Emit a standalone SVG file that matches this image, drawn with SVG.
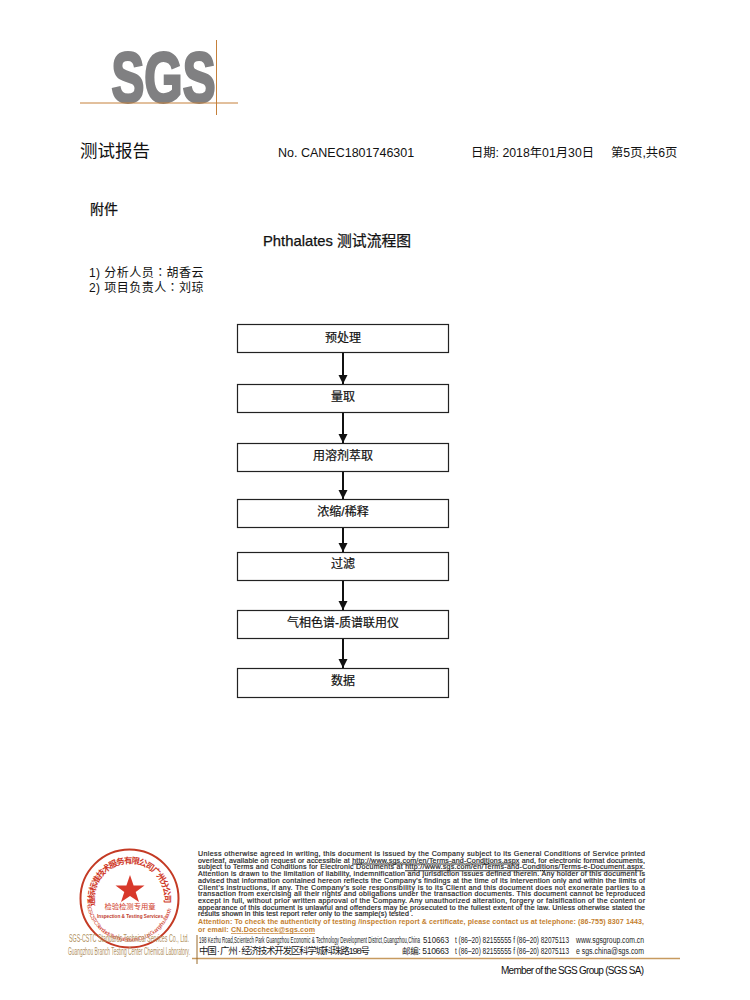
<svg xmlns="http://www.w3.org/2000/svg" width="750" height="1000" viewBox="0 0 750 1000">
<style>
text{font-family:"Liberation Sans","Noto Sans CJK SC",sans-serif;fill:#111}
.box{fill:#fff;stroke:#222;stroke-width:1.2}
.lab{font-size:12px;text-anchor:middle;stroke:#111;stroke-width:.2}
.conn{stroke:#111;stroke-width:2;fill:none;marker-end:url(#ah)}
.legal{font-size:7.1px;fill:#222;stroke:#222;stroke-width:.18}
.att{font-size:7.1px;font-weight:bold;fill:#c47f30}
.addr{font-size:8.500px;fill:#222}
.red{fill:#d8392b}
.st{fill:#cf3a2a;font-weight:bold}
.ol{fill:#b09060;font-size:10.500px}
.hv{stroke:#111;stroke-width:.25}
</style>
<defs>
<marker id="ah" markerUnits="userSpaceOnUse" markerWidth="10" markerHeight="10" refX="9" refY="4.500" orient="auto"><path d="M0,0L9,4.500L0,9Z" fill="#111"/></marker>
<path id="ct" d="M95.300,906A35,35 0 1 1 163.700,906"/>
<path id="cb" d="M87,905A43,43 0 0 0 172,905"/>
</defs>
<rect width="750" height="1000" fill="#fff"/>
<g id="logo">
<text x="111.500" y="101.500" font-size="70" font-weight="bold" textLength="104" lengthAdjust="spacingAndGlyphs" style="fill:#808082;stroke:#808082;stroke-width:2.8">SGS</text>
<path d="M80,103H238M216.500,40V115" stroke="#c5803a" stroke-width="1" fill="none"/>
</g>
<g id="header">
<text x="80" y="157" font-size="17.500">测试报告</text>
<text x="278" y="157" font-size="12.500">No. CANEC1801746301</text>
<text x="471" y="157" font-size="12.300">日期: 2018年01月30日</text>
<text x="611" y="157" font-size="12.300">第5页,共6页</text>
<text class="hv" x="90" y="214" font-size="14">附件</text>
<text class="hv" x="263" y="246" font-size="14.800">Phthalates 测试流程图</text>
<text x="89" y="277" font-size="12" letter-spacing=".45">1) 分析人员<tspan font-family="Noto Sans CJK TC">：</tspan>胡香云</text>
<text x="89" y="292" font-size="12" letter-spacing=".45">2) 项目负责人<tspan font-family="Noto Sans CJK TC">：</tspan>刘琼</text>
</g>
<g id="connectors">
<path class="conn" d="M343,353V384"/>
<path class="conn" d="M343,413V443"/>
<path class="conn" d="M343,471V499"/>
<path class="conn" d="M343,527V552"/>
<path class="conn" d="M343,580V610"/>
<path class="conn" d="M343,638V668"/>
</g>
<g id="n1"><rect class="box" x="237.500" y="324.500" width="211" height="28"/><text class="lab" x="343" y="342">预处理</text></g>
<g id="n2"><rect class="box" x="237.500" y="384.500" width="211" height="28"/><text class="lab" x="343" y="401">量取</text></g>
<g id="n3"><rect class="box" x="237.500" y="443.500" width="211" height="28"/><text class="lab" x="343" y="460">用溶剂萃取</text></g>
<g id="n4"><rect class="box" x="237.500" y="499.500" width="211" height="28"/><text class="lab" x="343" y="516">浓缩/稀释</text></g>
<g id="n5"><rect class="box" x="237.500" y="552.500" width="211" height="28"/><text class="lab" x="343" y="568">过滤</text></g>
<g id="n6"><rect class="box" x="237.500" y="610.500" width="211" height="28"/><text class="lab" x="343" y="627">气相色谱-质谱联用仪</text></g>
<g id="n7"><rect class="box" x="237.500" y="668.500" width="211" height="29"/><text class="lab" x="343" y="685">数据</text></g>
<g id="stamp">
<circle cx="129.500" cy="898.500" r="49" fill="none" stroke="#c43a24" stroke-width="2"/>
<path class="red" d="M130,875L133.600,885.500H144.500L135.700,892L139,902L130,896L121,902L124.300,892L115.500,885.500H126.400Z"/>
<text class="st" font-size="8.500"><textPath href="#ct" textLength="122">通标标准技术服务有限公司广州分公司</textPath></text>
<text class="st" font-size="5.500" style="font-weight:normal"><textPath href="#cb" textLength="118">SGS-CSTC Standards Technical Services Co., Ltd. Guangzhou Branch</textPath></text>
<text x="130" y="909" font-size="7.300" text-anchor="middle" style="fill:#cf3a2a">检验检测专用章</text>
<text x="130" y="917.500" font-size="6" font-weight="bold" text-anchor="middle" textLength="66" lengthAdjust="spacingAndGlyphs" style="fill:#c0392b">Inspection &amp; Testing Services</text>
<text class="ol" x="69" y="942" textLength="120" lengthAdjust="spacingAndGlyphs">SGS-CSTC Standards Technical Services Co., Ltd.</text>
<text class="ol" x="68" y="955" textLength="122" lengthAdjust="spacingAndGlyphs">Guangzhou Branch Testing Center Chemical Laboratory.</text>
</g>
<g id="legal">
<text class="legal" x="198" y="856" textLength="447" lengthAdjust="spacing">Unless otherwise agreed in writing, this document is issued by the Company subject to its General Conditions of Service printed</text>
<text class="legal" x="198" y="862.700" textLength="447" lengthAdjust="spacing">overleaf, available on request or accessible at <tspan text-decoration="underline">http://www.sgs.com/en/Terms-and-Conditions.aspx</tspan> and, for electronic format documents,</text>
<text class="legal" x="198" y="869.400" textLength="447" lengthAdjust="spacing">subject to Terms and Conditions for Electronic Documents at <tspan text-decoration="underline">http://www.sgs.com/en/Terms-and-Conditions/Terms-e-Document.aspx</tspan>.</text>
<text class="legal" x="198" y="876.100" textLength="447" lengthAdjust="spacing">Attention is drawn to the limitation of liability, indemnification and jurisdiction issues defined therein. Any holder of this document is</text>
<text class="legal" x="198" y="882.800" textLength="447" lengthAdjust="spacing">advised that information contained hereon reflects the Company's findings at the time of its intervention only and within the limits of</text>
<text class="legal" x="198" y="889.500" textLength="447" lengthAdjust="spacing">Client's instructions, if any. The Company's sole responsibility is to its Client and this document does not exonerate parties to a</text>
<text class="legal" x="198" y="896.200" textLength="447" lengthAdjust="spacing">transaction from exercising all their rights and obligations under the transaction documents. This document cannot be reproduced</text>
<text class="legal" x="198" y="902.900" textLength="447" lengthAdjust="spacing">except in full, without prior written approval of the Company. Any unauthorized alteration, forgery or falsification of the content or</text>
<text class="legal" x="198" y="909.600" textLength="447" lengthAdjust="spacing">appearance of this document is unlawful and offenders may be prosecuted to the fullest extent of the law. Unless otherwise stated the</text>
<text class="legal" x="198" y="916.300" textLength="215" lengthAdjust="spacing">results shown in this test report refer only to the sample(s) tested .</text>
<text class="att" x="198" y="924" textLength="446" lengthAdjust="spacing">Attention: To check the authenticity of testing /inspection report &amp; certificate, please contact us at telephone: (86-755) 8307 1443,</text>
<text class="att" x="198" y="932" textLength="117" lengthAdjust="spacing">or email: <tspan text-decoration="underline">CN.Doccheck@sgs.com</tspan></text>
</g>
<g id="footer">
<text class="addr" x="199" y="943" textLength="221" lengthAdjust="spacingAndGlyphs">198 Kezhu Road,Scientech Park Guangzhou Economic &amp; Technology Development District,Guangzhou,China</text>
<text class="addr" x="423" y="943" textLength="26" lengthAdjust="spacingAndGlyphs">510663</text>
<text class="addr" x="455" y="943" textLength="114" lengthAdjust="spacingAndGlyphs">t (86–20) 82155555   f (86–20) 82075113</text>
<text class="addr" x="576" y="943" textLength="68" lengthAdjust="spacingAndGlyphs">www.sgsgroup.com.cn</text>
<text x="199" y="954" font-size="9.500" textLength="171" lengthAdjust="spacing" style="fill:#222">中国 · 广州 · 经济技术开发区科学城科珠路198号</text>
<text class="addr" x="402" y="954" textLength="47" lengthAdjust="spacing">邮编: 510663</text>
<text class="addr" x="455" y="954" textLength="114" lengthAdjust="spacingAndGlyphs">t (86–20) 82155555   f (86–20) 82075113</text>
<text class="addr" x="576" y="954" textLength="68" lengthAdjust="spacingAndGlyphs">e  sgs.china@sgs.com</text>
<path d="M192,958.500H680" stroke="#c79a5f" stroke-width="1.600" fill="none"/>
<path d="M197,935V964" stroke="#9a6a2a" stroke-width="1" fill="none"/>
<text x="501" y="974" font-size="10" textLength="143" lengthAdjust="spacing">Member of the SGS Group (SGS SA)</text>
</g>
</svg>
